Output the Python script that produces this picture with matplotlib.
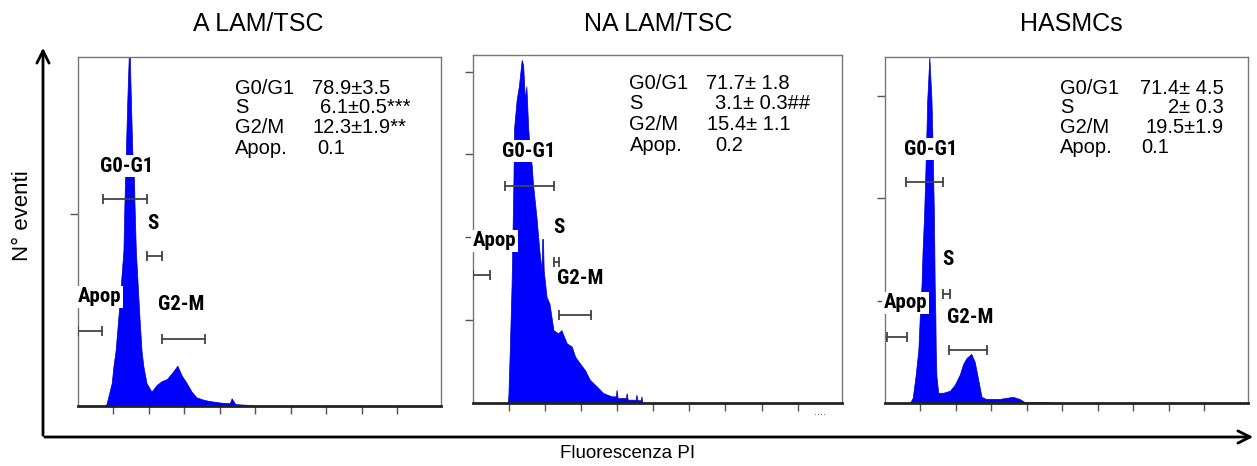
import matplotlib
matplotlib.use("Agg")
import matplotlib.pyplot as plt

plt.rcParams['font.family'] = ['Liberation Sans', 'DejaVu Sans']
NARROW = ['Roboto Condensed', 'Archivo Narrow', 'Liberation Sans']

# --- data (channel, counts) ---
titles = ["A LAM/TSC", "NA LAM/TSC", "HASMCs"]

ch_a = [76, 80, 83, 95, 100, 106, 114, 121, 128, 131, 134, 139, 143, 146, 149, 153,
        158, 159, 163, 168, 173, 179, 184, 193, 207, 222, 236, 250, 264, 280, 292,
        306, 320, 334, 353, 367, 405, 428, 433, 443, 489, 495]
counts_a = [0, 1, 3, 12, 21, 29, 47, 64, 81, 107, 127, 160, 182, 182, 160, 133,
            118, 107, 81, 64, 47, 29, 21, 12, 7.5, 11, 13, 14, 17, 21, 16,
            12, 7.5, 4.5, 3.3, 2.7, 1.7, 1.5, 4, 1, 0.5, 0]

ch_b = [96, 98, 102, 107, 112, 114, 121, 127, 135, 139, 144, 148, 153, 158, 163, 166,
        176, 184, 190, 192, 194, 196, 204, 212, 223, 236, 245, 260, 274, 283, 296,
        310, 324, 343, 361, 384, 396, 398, 401, 424, 426, 429, 451, 453, 456, 465,
        467, 470]
counts_b = [0, 4, 32, 72, 133, 166, 183, 191, 207, 204, 183, 191, 166, 151, 143, 133,
            112, 92, 80, 99, 99, 80, 64, 60, 44, 42, 44, 36, 34, 28, 24,
            20, 14, 10, 6, 4, 4, 8, 3, 3, 6, 2, 2, 5, 1.7, 1.7,
            4, 0]

ch_c = [70, 78, 86, 94, 98, 103, 106, 110, 113, 116, 119, 125, 131, 134, 136, 138,
        139, 140, 142, 143, 145, 150, 164, 183, 197, 211, 220, 230, 243, 253, 262,
        272, 285, 323, 360, 379, 393, 454, 470]
counts_c = [0, 2.5, 13, 26, 42, 58, 75, 91, 108, 127, 148, 169, 148, 127, 108, 91,
            75, 58, 42, 26, 13, 5, 5, 6, 9, 14, 19, 22, 24, 20, 12,
            3, 2, 2, 3, 2, 0.5, 0.5, 0]

ymax = [182, 210, 169]
yticks = [[100], [50, 100, 150, 200], [50, 100, 150]]

# gates: (start, end, height) and label position (ch, counts)
gate_names = ["G0-G1", "S", "Apop", "G2-M"]
gates_a = [(71, 195, 108), (195, 236, 78), (1, 67, 39), (237, 357, 35)]
glabels_a = [(137, 125), (212, 95), (62, 57), (292, 53)]
gates_b = [(89, 224, 131), (225, 238, 85), (0, 47, 77), (239, 327, 53)]
glabels_b = [(155, 152), (238, 106), (59, 98), (296, 75)]
gates_c = [(59, 164, 108), (164, 183, 53), (5, 61, 32), (181, 288, 26)]
glabels_c = [(128, 124), (178, 70), (58, 49), (239, 42)]

phases = ["G0/G1", "S", "G2/M", "Apop."]
stats_a = ["78.9\u00b13.5", "6.1\u00b10.5***", "12.3\u00b11.9**", "0.1"]
stats_b = ["71.7\u00b1 1.8", "3.1\u00b1 0.3##", "15.4\u00b1 1.1", "0.2"]
stats_c = ["71.4\u00b1 4.5", "2\u00b1 0.3", "19.5\u00b11.9", "0.1"]

W, H = 1257, 466
fig = plt.figure(figsize=(W / 100, H / 100), dpi=100)

# outer arrows
bg = fig.add_axes([0, 0, 1, 1])
bg.set_xlim(0, W)
bg.set_ylim(H, 0)
bg.axis("off")
bg.annotate("", xy=(43, 45), xytext=(43, 438),
            arrowprops=dict(arrowstyle="->", lw=2, color="black", mutation_scale=22))
bg.annotate("", xy=(1256, 437), xytext=(42, 437),
            arrowprops=dict(arrowstyle="->", lw=2, color="black", mutation_scale=22))
bg.text(23, 216, "N\u00b0 eventi", rotation=90, ha="center", va="center", fontsize=16)
bg.text(628, 453, "Fluorescenza PI", ha="center", va="center", fontsize=13.5)

boxes = [(78, 441, 57, 406), (473, 842, 55, 403), (885, 1248, 57, 403)]
title_x = [258, 658, 1071]
stat_cols = [
    (0.432, [0.644, 0.667, 0.647, 0.658], [0.911, 0.854, 0.797, 0.739], "left"),
    (0.424, [0.631, 0.656, 0.633, 0.656], [0.919, 0.861, 0.799, 0.741], "left"),
    (0.482, [0.934, 0.934, 0.934, 0.707], [0.910, 0.853, 0.795, 0.737], "right"),
]

hists = [(ch_a, counts_a), (ch_b, counts_b), (ch_c, counts_c)]
gates = [gates_a, gates_b, gates_c]
glabels = [glabels_a, glabels_b, glabels_c]
stats = [stats_a, stats_b, stats_c]

for i in range(3):
    l, r, t, b = boxes[i]
    ax = fig.add_axes([l / W, (H - b) / H, (r - l) / W, (b - t) / H])
    x, y = hists[i]
    ax.fill_between(x, y, 0, color="#0000ff", lw=0.5, edgecolor="#0000c0", zorder=2)
    ax.set_xlim(0, 1023)
    ax.set_ylim(0, ymax[i])
    ax.set_xticks(range(100, 1000, 100))
    ax.set_yticks(yticks[i])
    ax.set_xticklabels([])
    ax.set_yticklabels([])
    ax.tick_params(direction="out", length=6, width=1, color="#555555")
    for s in ["left", "top", "right"]:
        ax.spines[s].set_color("#777777")
        ax.spines[s].set_linewidth(1)
    ax.spines["bottom"].set_color("#222222")
    ax.spines["bottom"].set_linewidth(2)

    for (g0, g1, gy), (lx, ly), name in zip(gates[i], glabels[i], gate_names):
        ax.plot([g0, g1], [gy, gy], color="#444444", lw=1.3, zorder=3)
        ax.plot([g0, g1], [gy, gy], ls="none", marker="|", ms=7, mew=1.3,
                color="#444444", zorder=3)
        ax.text(lx, ly, name, ha="center", va="center", fontsize=15, fontweight="bold",
                family=NARROW, zorder=4,
                bbox=dict(facecolor="white", edgecolor="none", pad=1))

    lab_x, val_x, rows, val_ha = stat_cols[i]
    for k in range(4):
        ax.text(lab_x, rows[k], phases[k], transform=ax.transAxes, ha="left",
                va="center", fontsize=14.5)
        ha = val_ha if k < 3 else "left"
        ax.text(val_x[k], rows[k], stats[i][k], transform=ax.transAxes, ha=ha,
                va="center", fontsize=14.5)

    if i == 1:
        ax.text(0.94, -0.025, "....", transform=ax.transAxes, ha="center",
                va="center", fontsize=8, color="#555555")

    fig.text(title_x[i] / W, (H - 24) / H, titles[i], ha="center", va="center",
             fontsize=18)

fig.savefig("out.png", dpi=100)
